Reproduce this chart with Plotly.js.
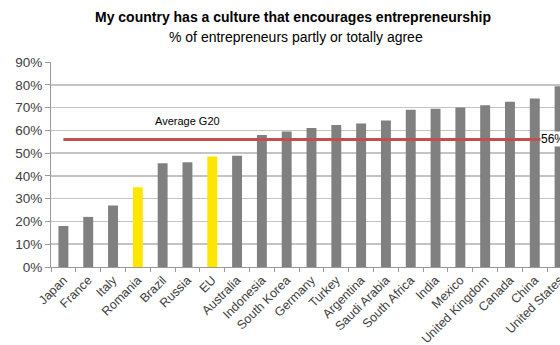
<!DOCTYPE html>
<html>
<head>
<meta charset="utf-8">
<script src="https://cdn.plot.ly/plotly-3.0.1.min.js"></script>
<style>
html,body{margin:0;padding:0;overflow:hidden;background:#fff;}
#chart{width:600px;height:345px;}
</style>
</head>
<body>
<div id="chart"></div>
<script>
const countries = ["Japan","France","Italy","Romania","Brazil","Russia","EU","Australia","Indonesia","South Korea","Germany","Turkey","Argentina","Saudi Arabia","South Africa","India","Mexico","United Kingdom","Canada","China","United States"];
const agreePct = [18,22,27,35,45.5,46,48.5,48.8,58,59.5,61,62.3,63,64.3,69,69.5,70,71,72.5,74,79.3];
const highlighted = ["Romania","EU"];
const averageG20 = 56;

const barColors = countries.map(c => highlighted.includes(c) ? "#FFE600" : "#808080");

const data = [
  {type:"bar", x:countries, y:agreePct, marker:{color:barColors}, hoverinfo:"x+y"},
  {type:"scatter", mode:"lines", x:countries, y:countries.map(()=>averageG20),
   line:{color:"#C0504D", width:3}, hoverinfo:"skip"}
];

// plot area: x 51..572 px, y 62..267 px
const px2x = p => (p - 51) / 521;
const px2y = p => (267 - p) / 205;

const layout = {
  width:600, height:345,
  margin:{l:51, r:28, t:62, b:78},
  paper_bgcolor:"#fff", plot_bgcolor:"#fff",
  showlegend:false,
  bargap:0.6,
  font:{family:"Liberation Sans, Arial, sans-serif", color:"#404040"},
  xaxis:{
    type:"category", tickangle:-45, tickson:"boundaries",
    ticks:"outside", ticklen:4, tickcolor:"#999",
    showline:true, linecolor:"#999", linewidth:1,
    showgrid:false, tickfont:{size:12.5, color:"#404040"},
    range:[-0.5, 20.5]
  },
  yaxis:{
    range:[0,90], dtick:10, ticksuffix:"%",
    ticks:"outside", ticklen:5, tickcolor:"#999",
    showline:true, linecolor:"#999", linewidth:1,
    gridcolor:"#c4c4c4", gridwidth:1.5, zeroline:false,
    tickfont:{size:13.5, color:"#404040"}
  },
  annotations:[
    {xref:"paper", yref:"paper", x:px2x(293), y:px2y(17), yanchor:"middle", xanchor:"center",
     text:"<b>My country has a culture that encourages entrepreneurship</b>", showarrow:false,
     font:{size:14, color:"#000"}},
    {xref:"paper", yref:"paper", x:px2x(296), y:px2y(37), yanchor:"middle", xanchor:"center",
     text:"% of entrepreneurs partly or totally agree", showarrow:false,
     font:{size:14, color:"#000"}},
    {xref:"x", yref:"y", x:"Russia", y:averageG20, yshift:10, yanchor:"bottom", xanchor:"center",
     text:"Average G20", showarrow:false, font:{size:11, color:"#000"}},
    {xref:"x", yref:"y", x:"China", xshift:5, y:averageG20, xanchor:"left", yanchor:"middle",
     text:averageG20+"%", showarrow:false, bgcolor:"#fff", borderpad:0,
     font:{size:12, color:"#000"}}
  ]
};

Plotly.newPlot("chart", data, layout, {displayModeBar:false, staticPlot:true});
</script>
</body>
</html>
